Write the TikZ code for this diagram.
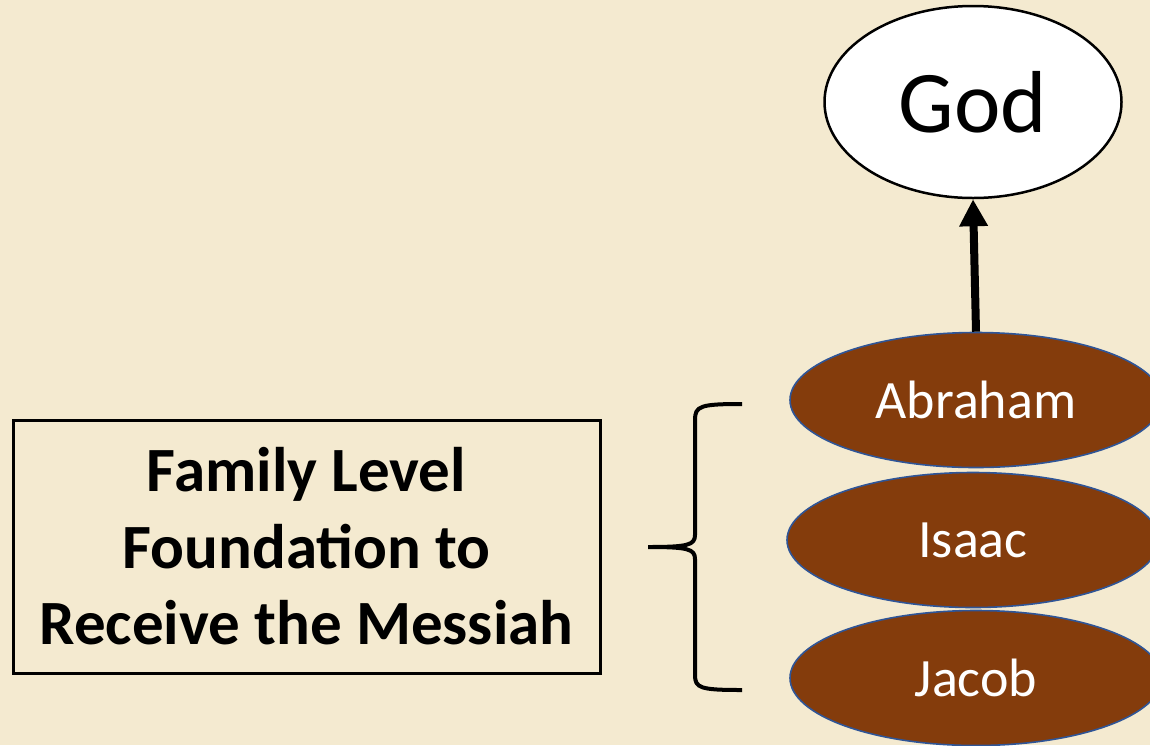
\documentclass[tikz,border=0pt]{standalone}
\usepackage{fontspec}
\setmainfont{Carlito}
\usetikzlibrary{shapes.geometric, arrows.meta}

\definecolor{paper}{RGB}{244,234,208}
\definecolor{patriarch}{RGB}{132,60,12}
\definecolor{rim}{RGB}{47,85,151}

\begin{document}
\begin{tikzpicture}[x=1pt, y=-1pt]
  \tikzstyle{every node}=[inner sep=0pt]
  \tikzstyle{father}=[ellipse, fill=patriarch, draw=rim, line width=1.6pt,
    minimum width=372pt, minimum height=135pt, text=white,
    font=\fontsize{54}{60}\selectfont]
  \useasboundingbox (0, 0) rectangle (1150, 745);
  \clip (0, 0) rectangle (1150, 745);
  \fill[paper] (0, 0) rectangle (1150, 745);

  \node[ellipse, draw, fill=white, line width=2.5pt, minimum width=297pt,
    minimum height=192pt, font=\fontsize{88}{100}\selectfont] (god) at (973, 102) {God};

  \node[father] (abraham) at (976, 400) {Abraham};
  \node[father] (isaac) at (973, 540) {Isaac};
  \node[father] (jacob) at (976, 678) {Jacob};

  \draw[line width=8pt, -{Triangle[length=27pt, width=27pt]}] (abraham.north) -- (god.south);

  \node[draw, line width=3pt, minimum width=587pt, minimum height=253pt, align=center,
    font=\bfseries\fontsize{63}{76.5}\selectfont] (found) at (306.5, 546.5)
    {Family Level\\Foundation to\\Receive the Messiah};

  % brace
  \draw[line width=4pt] (742, 404) .. controls (700, 404) and (695, 406) .. (695, 420)
    -- (695, 535) .. controls (695, 545) and (688, 547) .. (648, 547)
    .. controls (688, 547) and (695, 549) .. (695, 559)
    -- (695, 675) .. controls (695, 688) and (700, 690) .. (742, 690);
\end{tikzpicture}
\end{document}
